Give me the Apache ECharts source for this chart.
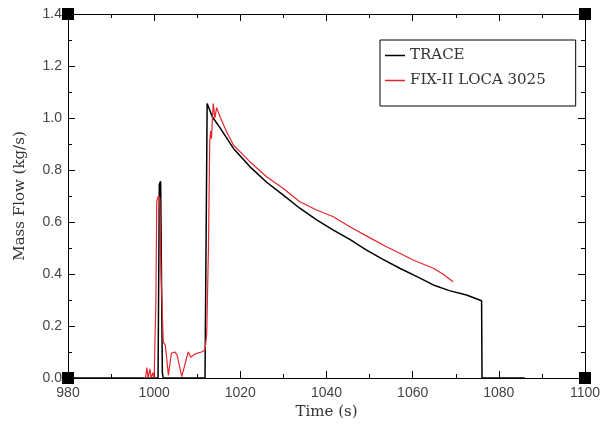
<!DOCTYPE html>
<html>
<head>
<meta charset="utf-8">
<script src="https://cdn.jsdelivr.net/npm/echarts@6/dist/echarts.min.js"></script>
<style>
    html, body { margin: 0; padding: 0; background: #fff; }
    #chart { width: 613px; height: 431px; }
</style>
</head>
<body>
<div id="chart"></div>
<script>
    // TRACE curve [time s, mass flow kg/s]
    var traceData = [
        [980, 0], [1000.9, 0], [1001.2, 0.745], [1001.5, 0.757], [1001.9, 0.02], [1002.1, 0],
        [1011.8, 0], [1012.3, 1.056], [1013.5, 1.005], [1015.3, 0.962], [1018.4, 0.883], [1022.2, 0.813],
        [1026.1, 0.753], [1029.9, 0.704], [1033.8, 0.653], [1037.7, 0.608], [1041.6, 0.569],
        [1045.4, 0.533], [1049.3, 0.492], [1053, 0.457], [1057, 0.422], [1061, 0.39], [1064.8, 0.358],
        [1068.5, 0.336], [1072.5, 0.319], [1076, 0.297], [1076.1, 0], [1086, 0]
    ]
    // FIX-II LOCA 3025 measurement
    var fixData = [
        [997.5, 0], [998.0, 0], [998.3, 0.04], [998.6, 0], [999.0, 0.035], [999.3, 0], [999.7, 0.02],
        [1000.0, 0], [1000.4, 0.3], [1000.6, 0.68], [1001.0, 0.70], [1001.3, 0.69], [1001.6, 0.4],
        [1002.1, 0.14], [1002.6, 0.125], [1003.3, 0.01], [1004.0, 0.095], [1004.8, 0.10], [1005.3, 0.09],
        [1006.4, 0.005], [1007.9, 0.10], [1008.5, 0.08], [1009.1, 0.088], [1009.9, 0.095], [1011, 0.10],
        [1011.8, 0.108], [1012.2, 0.17], [1012.6, 0.5], [1012.9, 0.91], [1013.1, 0.95], [1013.3, 0.92],
        [1013.7, 1.056], [1014.1, 1.0], [1014.5, 1.04], [1015.4, 1.0], [1016.8, 0.947], [1018.4, 0.896],
        [1020.3, 0.864], [1022.2, 0.832], [1026.1, 0.774], [1029.9, 0.73], [1033.8, 0.678], [1037.7, 0.646],
        [1041.6, 0.62], [1045.4, 0.582], [1050, 0.54], [1053.9, 0.505], [1057, 0.48], [1060.1, 0.454],
        [1064.8, 0.422], [1067, 0.40], [1069.4, 0.37]
    ]
    // black squares sitting on the frame corners
    var cornerPoints = [[980, 0], [1100, 0], [980, 1.4], [1100, 1.4]]
    var legendNames = ['TRACE', 'FIX-II LOCA 3025']

    var tickFont = { color: '#444', fontSize: 14, fontFamily: 'Liberation Sans' }
    var frameAxis = {
        axisLine: { show: true, onZero: false, lineStyle: { color: '#000', width: 1 } },
        axisTick: { show: true, inside: true, length: 7, lineStyle: { color: '#000' } },
        minorTick: { show: true, splitNumber: 2, length: 4, lineStyle: { color: '#000' } },
        splitLine: { show: false }
    }

    var myChart = echarts.init(document.getElementById('chart'))
    var options = {
        animation: false,
        backgroundColor: '#fff',
        grid: { left: 68, right: 28, top: 14, bottom: 53 },
        legend: {
            data: legendNames,
            orient: 'vertical',
            left: 380,
            top: 40,
            padding: [8, 30, 18, 5],
            itemGap: 10,
            itemWidth: 20,
            itemHeight: 1.5,
            icon: 'rect',
            borderColor: '#000',
            borderWidth: 1,
            textStyle: { color: '#333', fontSize: 15, fontFamily: 'DejaVu Serif' }
        },
        xAxis: [
            Object.assign({
                type: 'value', min: 980, max: 1100, interval: 20,
                position: 'bottom',
                name: 'Time (s)', nameLocation: 'middle', nameGap: 27,
                nameTextStyle: { color: '#333', fontSize: 15, fontFamily: 'DejaVu Serif' },
                axisLabel: Object.assign({ margin: 8, formatter: function (v) { return String(v) } }, tickFont)
            }, frameAxis),
            Object.assign({
                type: 'value', min: 980, max: 1100, interval: 20,
                position: 'top', axisLabel: { show: false }
            }, frameAxis)
        ],
        yAxis: [
            Object.assign({
                type: 'value', min: 0, max: 1.4, interval: 0.2,
                position: 'left',
                name: 'Mass Flow (kg/s)', nameLocation: 'middle', nameGap: 40,
                nameTextStyle: { color: '#333', fontSize: 15, fontFamily: 'DejaVu Serif' },
                axisLabel: Object.assign({ margin: 6, formatter: function (v) { return v.toFixed(1) } }, tickFont)
            }, frameAxis),
            Object.assign({
                type: 'value', min: 0, max: 1.4, interval: 0.2,
                position: 'right', axisLabel: { show: false }
            }, frameAxis)
        ],
        series: [
            {
                name: 'TRACE', type: 'line', data: traceData, smooth: false,
                showSymbol: false, symbol: 'none',
                lineStyle: { color: '#000', width: 1.5 }, itemStyle: { color: '#000' },
                z: 3
            },
            {
                name: 'FIX-II LOCA 3025', type: 'line', data: fixData, smooth: false,
                showSymbol: false, symbol: 'none',
                lineStyle: { color: '#e3262b', width: 1.2 }, itemStyle: { color: '#e3262b' },
                z: 4
            },
            {
                name: 'corners', type: 'scatter', data: cornerPoints,
                symbol: 'rect', symbolSize: 12, clip: false,
                itemStyle: { color: '#000', opacity: 1 }, silent: true, z: 10
            }
        ]
    }
    myChart.setOption(options)
    window.addEventListener('resize', myChart.resize)
</script>
</body>
</html>
